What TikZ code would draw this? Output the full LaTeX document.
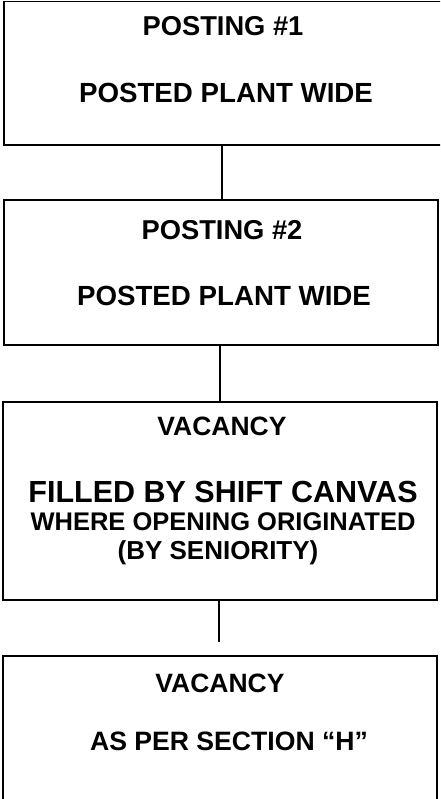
\documentclass[tikz,border=0pt]{standalone}
\usepackage{fontspec}
\setmainfont{Liberation Sans}
\usepackage{tikz}
\usetikzlibrary{positioning, calc}

\newcommand{\fsz}[1]{\fontsize{#1}{#1}\selectfont}

\begin{document}
\begin{tikzpicture}[
  x=1pt, y=-1pt,
  box/.style={draw, line width=1.3pt, inner sep=0pt, outer sep=0pt},
  lbl/.style={anchor=base, inner sep=0pt, font=\bfseries},
  link/.style={line width=1.2pt}
]
  \clip (0,0) rectangle (440,799);
  \node (b1) [box, minimum width=438pt, minimum height=143.5pt] at (223,73.25) {};
  \node (b2) [box, minimum width=434pt, minimum height=145pt]   at (221,272.5) {};
  \node (b3) [box, minimum width=434pt, minimum height=198pt]   at (220,501)   {};
  \node (b4) [box, minimum width=434pt, minimum height=154pt]   at (220,733)   {};

  \node (p1)  [lbl] at (223,36)  {\fsz{27.3}POSTING \#1};
  \node (p1w) [lbl] at (226,103) {\fsz{27.7}POSTED PLANT WIDE};
  \node (p2)  [lbl] at (222,240) {\fsz{27.3}POSTING \#2};
  \node (p2w) [lbl] at (224,305) {\fsz{27.7}POSTED PLANT WIDE};
  \node (v1)  [lbl] at (222,435) {\fsz{26.5}VACANCY};
  \node (fb)  [lbl] at (223,502) {\fsz{30.5}FILLED BY SHIFT CANVAS};
  \node (wo)  [lbl] at (223,530) {\fsz{25.5}WHERE OPENING ORIGINATED};
  \node (bs)  [lbl] at (218,559) {\fsz{26}(BY SENIORITY)};
  \node (v2)  [lbl] at (220,692) {\fsz{26.5}VACANCY};
  \node (ps)  [lbl] at (229,750) {\fsz{26.6}AS PER SECTION ``H''};

  \draw[link] ([xshift=-1pt]b1.south) -- ([xshift=-1pt]b1.south |- b2.north);
  \draw[link] ([xshift=-1pt]b2.south) -- ([xshift=-1pt]b2.south |- b3.north);
  \draw[link, shorten >=14pt] ([xshift=-1pt]b3.south) -- ([xshift=-1pt]b3.south |- b4.north);
\end{tikzpicture}
\end{document}
